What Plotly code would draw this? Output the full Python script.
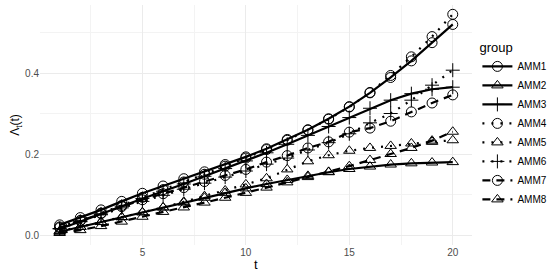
import plotly.graph_objects as go

t = list(range(1, 21))

amm1 = [0.025, 0.043, 0.062, 0.083, 0.103, 0.121, 0.139, 0.156, 0.174, 0.193,
        0.213, 0.236, 0.260, 0.287, 0.317, 0.351, 0.389, 0.430, 0.475, 0.520]
amm2 = [0.008, 0.020, 0.032, 0.044, 0.056, 0.068, 0.080, 0.092, 0.104, 0.115,
        0.126, 0.136, 0.146, 0.155, 0.163, 0.169, 0.174, 0.177, 0.179, 0.180]
amm3 = [0.015, 0.033, 0.052, 0.071, 0.090, 0.108, 0.126, 0.145, 0.164, 0.183,
        0.203, 0.224, 0.246, 0.268, 0.290, 0.313, 0.333, 0.349, 0.360, 0.365]
amm4 = [0.020, 0.036, 0.054, 0.073, 0.093, 0.112, 0.131, 0.150, 0.170, 0.190,
        0.211, 0.234, 0.259, 0.286, 0.316, 0.352, 0.394, 0.440, 0.490, 0.545]
amm5 = [0.010, 0.020, 0.032, 0.044, 0.056, 0.068, 0.082, 0.096, 0.110, 0.125,
        0.140, 0.162, 0.182, 0.197, 0.208, 0.215, 0.220, 0.226, 0.230, 0.234]
amm6 = [0.016, 0.033, 0.050, 0.067, 0.083, 0.098, 0.113, 0.128, 0.143, 0.158,
        0.175, 0.190, 0.210, 0.228, 0.250, 0.277, 0.300, 0.333, 0.370, 0.407]
amm7 = [0.018, 0.035, 0.053, 0.070, 0.087, 0.102, 0.117, 0.132, 0.147, 0.162,
        0.180, 0.196, 0.215, 0.230, 0.254, 0.264, 0.281, 0.304, 0.326, 0.346]
amm8 = [0.005, 0.012, 0.022, 0.033, 0.045, 0.057, 0.068, 0.080, 0.092, 0.104,
        0.117, 0.130, 0.143, 0.156, 0.170, 0.185, 0.200, 0.215, 0.233, 0.255]

groups = ["AMM1", "AMM2", "AMM3", "AMM4", "AMM5", "AMM6", "AMM7", "AMM8"]
values = [amm1, amm2, amm3, amm4, amm5, amm6, amm7, amm8]

# ggplot-like shape / linetype cycling
symbols = ["circle-open", "triangle-up-open", "cross-thin-open"] * 3
dots = "2px,7px"
dashes = "8px,6px"
linetypes = ["solid"] * 3 + [dots] * 3 + [dashes] * 2

fig = go.Figure()
for name, y, sym, lt in zip(groups, values, symbols, linetypes):
    fig.add_trace(go.Scatter(
        x=t, y=y, name=name, mode="lines+markers",
        line=dict(color="black", width=2.2, dash=lt),
        marker=dict(symbol=sym, size=10, color="black",
                    line=dict(color="black", width=1)),
    ))

grid = "#EBEBEB"
fig.update_layout(
    width=550, height=274,
    margin=dict(l=40, r=76, t=5, b=29),
    plot_bgcolor="white", paper_bgcolor="white",
    font=dict(family="Liberation Sans, Arial, sans-serif", color="#4D4D4D", size=10),
    legend=dict(
        title=dict(text="group", font=dict(size=13, color="black")),
        xref="container", yref="paper",
        x=0.868, xanchor="left", y=0.875, yanchor="top",
        font=dict(size=10, color="black"),
        tracegroupgap=0, itemwidth=30, borderwidth=0,
        bgcolor="rgba(0,0,0,0)",
    ),
    annotations=[dict(
        text="t", xref="paper", yref="paper", x=0.5, y=-0.083,
        xanchor="center", yanchor="middle", showarrow=False,
        font=dict(size=13, color="black"),
    )],
)
fig.update_xaxes(
    range=[0.05, 20.95], tick0=0, dtick=5, showgrid=True, gridcolor=grid,
    gridwidth=1, zeroline=False, showline=False, ticks="",
    minor=dict(dtick=2.5, showgrid=True, gridcolor="#F3F3F3", gridwidth=0.8),
)
fig.update_yaxes(
    range=[-0.0247, 0.568], tick0=0, dtick=0.2, tickformat=".1f",
    showgrid=True, gridcolor=grid, gridwidth=1, zeroline=False,
    showline=False, ticks="",
    minor=dict(dtick=0.1, showgrid=True, gridcolor="#F3F3F3", gridwidth=0.8),
    title=dict(text="Λ<sub>t</sub>(t)", font=dict(size=12, color="black"), standoff=2),
)

# drop the default page margin so the figure sits at the window origin
fig.write_html("out.html", config={"displayModeBar": False},
               post_script="document.body.style.margin='0';")
